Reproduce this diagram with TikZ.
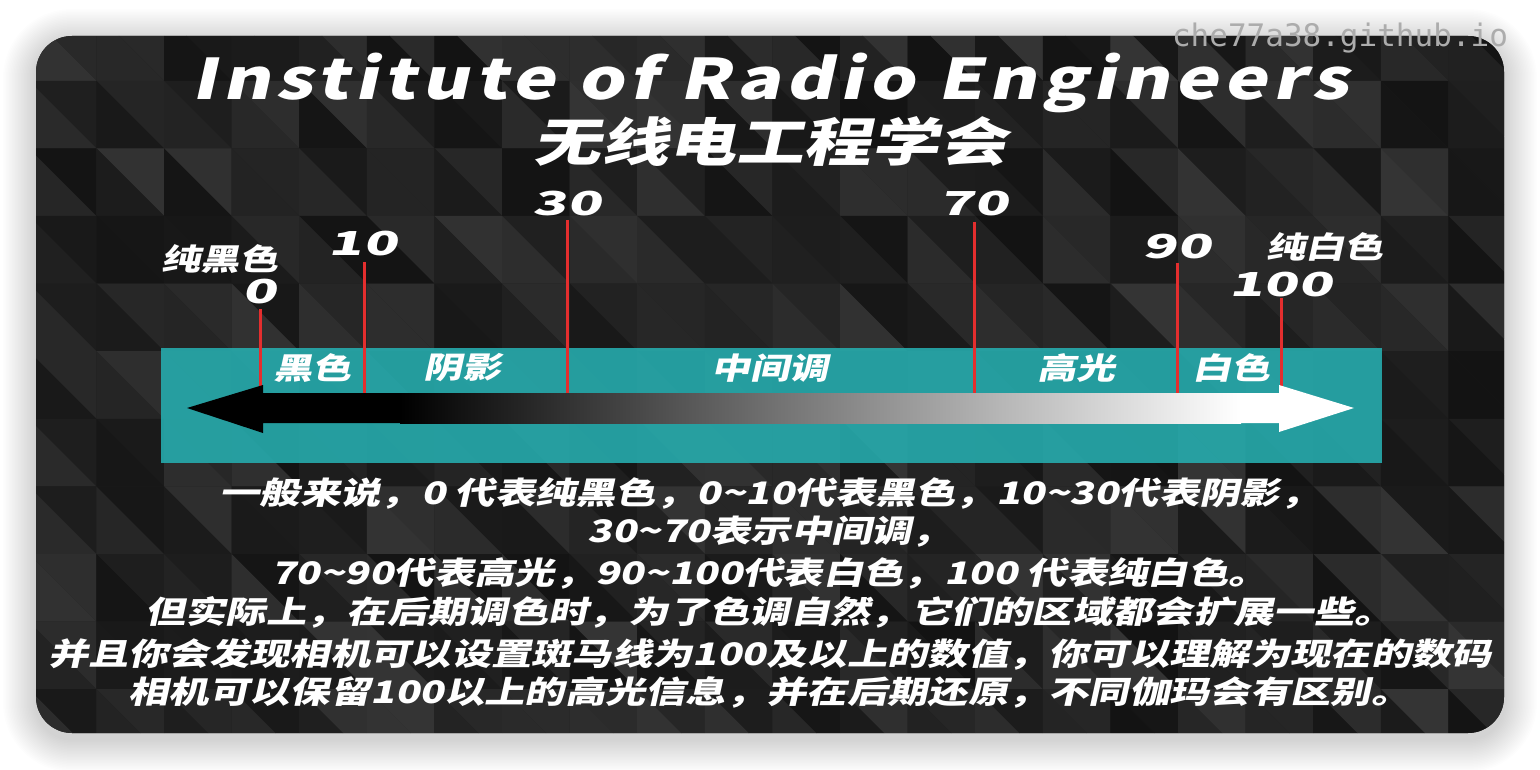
\documentclass[tikz,border=0pt]{standalone}
\usepackage{fontspec}
\newfontfamily\tf{Noto Sans CJK SC}[FakeSlant=0.22, FakeStretch=1.3]
\newfontfamily\nf{Noto Sans CJK SC}[FakeSlant=0.22, FakeStretch=1.7]
\newfontfamily\wmf{DejaVu Sans Mono}
\definecolor{teal2}{RGB}{38,171,173}
\definecolor{tickred}{RGB}{228,46,46}
\definecolor{wmgray}{RGB}{172,172,172}
\tikzset{
  txt/.style={text=white, inner sep=0pt},
  bodytxt/.style={txt, font=\tf\bfseries\fontsize{31}{31}\selectfont},
  bandtxt/.style={txt, font=\tf\bfseries\fontsize{30}{30}\selectfont},
  toptxt/.style={txt, font=\tf\bfseries\fontsize{30}{30}\selectfont},
  numtxt/.style={txt, font=\nf\bfseries\fontsize{33}{33}\selectfont},
  tickline/.style={draw=tickred, line width=3pt},
}
\begin{document}
\begin{tikzpicture}[x=1pt, y=-1pt]
\useasboundingbox (0,0) rectangle (1540,770);
\fill[white] (0,0) rectangle (1540,770);
% soft shadow
\foreach \k in {1,...,22} {
  \fill[black, opacity=0.009, rounded corners={36+1.5*\k}] (36-1.5*\k,42-1.5*\k) rectangle (1504+1.5*\k,739+1.5*\k);
}
% panel
\fill[rounded corners=36, fill={rgb,255:red,30;green,30;blue,30}] (36,36) rectangle (1504,733);
\begin{scope}
\clip[rounded corners=36] (36,36) rectangle (1504,733);
\pgfmathsetseed{11}
\foreach \i in {0,...,21} {
  \foreach \j in {0,...,10} {
    \pgfmathsetmacro{\xa}{28.8+67.6*\i}
    \pgfmathsetmacro{\ya}{13.2+67.6*\j}
    \pgfmathsetmacro{\ga}{0.075+0.13*rnd}
    \pgfmathsetmacro{\gb}{0.075+0.13*rnd}
    \definecolor{tA}{gray}{\ga}
    \definecolor{tB}{gray}{\gb}
    \fill[tA] (\xa,\ya) -- (\xa+67.6,\ya) -- (\xa+67.6,\ya+67.6) -- cycle;
    \fill[tB] (\xa,\ya) -- (\xa,\ya+67.6) -- (\xa+67.6,\ya+67.6) -- cycle;
  }
}
\end{scope}
% teal band
\node[fill=teal2, fill opacity=0.9, minimum width=1221pt, minimum height=115pt, inner sep=0pt] (band) at (771.5,405.5) {};
% ticks
\coordinate (k0t) at (260,309);  \coordinate (k0b) at (260,386);
\coordinate (k10t) at (364,262); \coordinate (k10b) at (364,394);
\coordinate (k30t) at (567,220); \coordinate (k30b) at (567,394);
\coordinate (k70t) at (974,222); \coordinate (k70b) at (974,394);
\coordinate (k90t) at (1177,263); \coordinate (k90b) at (1177,394);
\coordinate (k100t) at (1281,298); \coordinate (k100b) at (1281,386);
\foreach \n in {0,10,30,70,90,100} { \draw[tickline] (k\n t) -- (k\n b); }
% gradient arrow
\fill[black] (187,408) -- (263,385) -- (263,393) -- (402,393) -- (402,423) -- (263,423) -- (263,433) -- cycle;
\shade[left color=black, right color=white] (400,393) rectangle (1241,423);
\fill[white] (1240,393) -- (1279,393) -- (1279,385) -- (1354,408) -- (1279,432) -- (1279,423) -- (1240,423) -- cycle;
% band labels
\node[bandtxt] (bl1) at (312,368) {黑色};
\node[bandtxt] (bl2) at (462,368) {阴影};
\node[bandtxt] (bl3) at (770,368) {中间调};
\node[bandtxt] (bl4) at (1076,368) {高光};
\node[bandtxt] (bl5) at (1231,368) {白色};
% top labels
\node[toptxt] (pb) at (220,259) {纯黑色};
\node[toptxt] (pw) at (1325,247) {纯白色};
\node[numtxt] (n0) at (260,292) {0};
\node[numtxt] (n10) at (363,244) {10};
\node[numtxt] (n30) at (567,204) {30};
\node[numtxt] (n70) at (974,204) {70};
\node[numtxt] (n90) at (1177,247) {90};
\node[numtxt] (n100) at (1281,285) {100};
% titles
\node[txt, font=\tf\bfseries\fontsize{56}{56}\selectfont\addfontfeature{LetterSpace=10}] (t1) at (770,83) {Institute of Radio Engineers};
\node[txt, font=\tf\bfseries\fontsize{52}{52}\selectfont] (t2) at (770,142) {无线电工程学会};
% body
\node[bodytxt] (l1) at (770,493) {一般来说，0 代表纯黑色，0\textasciitilde10代表黑色，10\textasciitilde30代表阴影，};
\node[bodytxt] (l2) at (770,532) {30\textasciitilde70表示中间调，};
\node[bodytxt] (l3) at (770,573) {70\textasciitilde90代表高光，90\textasciitilde100代表白色，100 代表纯白色。};
\node[bodytxt] (l4) at (770,612) {但实际上，在后期调色时，为了色调自然，它们的区域都会扩展一些。};
\node[bodytxt] (l5) at (770,655) {并且你会发现相机可以设置斑马线为100及以上的数值，你可以理解为现在的数码};
\node[bodytxt] (l6) at (770,692) {相机可以保留100以上的高光信息，并在后期还原，不同伽玛会有区别。};
% watermark
\node[inner sep=0pt, text=wmgray, font=\wmf\fontsize{31}{31}\selectfont] (wm) at (1340,38) {che77a38.github.io};
\end{tikzpicture}
\end{document}
